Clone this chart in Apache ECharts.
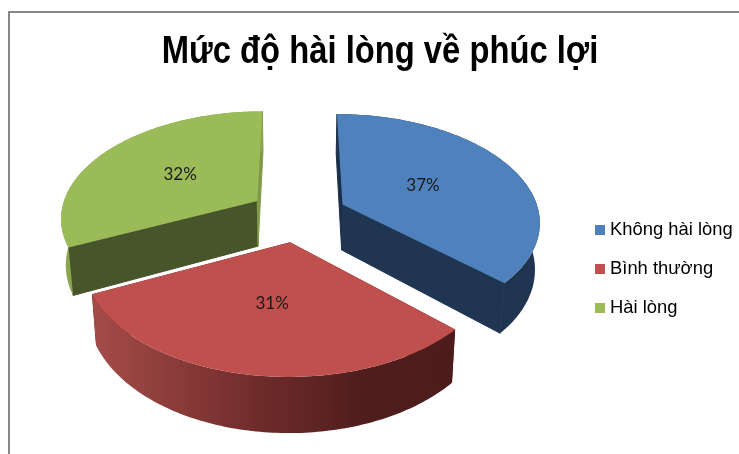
<!DOCTYPE html>
<html><head><meta charset="utf-8">
<script src="https://cdn.jsdelivr.net/npm/echarts@6/dist/echarts.min.js"></script>
<style>html,body{margin:0;padding:0;background:#fff}#c{width:739px;height:454px}</style>
</head><body><div id="c"></div>
<script>
const titleText = 'Mức độ hài lòng về phúc lợi';
const categories = ['Không hài lòng', 'Bình thường', 'Hài lòng'];
const values = [37, 31, 32];
const topColors = ['#4f81bd', '#c0504d', '#9bbb59'];
const drawOrder = [2, 0, 1];

// Projection of the tilted, exploded pie
const view = { cx: 298, cy: 215, A: 197, B: 106.4, p: 0.145, explode: 0.25, depth: 46, bottomScale: 0.98 };
const labelRadius = [0.47, 0.5, 0.5];
const total = values.reduce((a, b) => a + b, 0);
const D2R = Math.PI / 180;

function project(wx, wz, bottom) {
  const s = 1 / (1 - view.p * wz);
  let x = view.A * wx * s, y = view.B * wz * s;
  if (bottom) { x *= view.bottomScale; y += view.depth * s; }
  return [view.cx + x, view.cy + y];
}
function sliceAngles(i) {
  let before = 0;
  for (let k = 0; k < i; k++) before += values[k];
  return [before / total * 360, (before + values[i]) / total * 360];
}
function pointAt(i, deg, r, bottom) {
  const [a0, a1] = sliceAngles(i);
  const mid = (a0 + a1) / 2 * D2R, t = deg * D2R;
  const wx = view.explode * Math.sin(mid) + r * Math.sin(t);
  const wz = -view.explode * Math.cos(mid) - r * Math.cos(t);
  return project(wx, wz, bottom);
}
function arc(i, bottom, from, to) {
  const pts = [], n = Math.max(2, Math.ceil(Math.abs(to - from)));
  for (let k = 0; k <= n; k++) pts.push(pointAt(i, from + (to - from) * k / n, 1, bottom));
  return pts;
}
const faceColors = [
  { startCut: '#1b2f4a', endCut: '#1f3552', wall: '#1f3552' },
  { startCut: '#4e1c1c', endCut: '#4e1c1c', wall: new echarts.graphic.LinearGradient(0, 0, 1, 0, [
      { offset: 0, color: '#a54c49' }, { offset: 0.45, color: '#702c2b' },
      { offset: 0.75, color: '#4f1d1c' }, { offset: 1, color: '#4c1c1b' }]) },
  { startCut: '#47562a', endCut: '#7f9a48', wall: '#8aa64e' }
];
function poly(points, fill, z2, seam) {
  return { type: 'polygon', z2, shape: { points }, silent: true,
    style: seam ? { fill, stroke: fill, lineWidth: 1 } : { fill } };
}
function renderSlice(i) {
  return function () {
    const [a0, a1] = sliceAngles(i);
    const c = faceColors[i];
    const mid = (a0 + a1) / 2;
    const lab = pointAt(i, mid, labelRadius[i], false);
    const apexT = pointAt(i, 0, 0, false), apexB = pointAt(i, 0, 0, true);
    const top = [apexT].concat(arc(i, false, a0, a1));
    const wall = arc(i, false, a0, a1).concat(arc(i, true, a1, a0));
    return { type: 'group', children: [
      poly([apexT, pointAt(i, a0, 1, false), pointAt(i, a0, 1, true), apexB], c.startCut, 1, i !== 1),
      poly([apexT, pointAt(i, a1, 1, false), pointAt(i, a1, 1, true), apexB], c.endCut, 2, i !== 1),
      poly(wall, c.wall, 3, false),
      poly(top, topColors[i], 4, false),
      { type: 'text', z2: 5, silent: true, x: lab[0], y: lab[1], style: {
          text: Math.round(values[i] / total * 100) + '%', align: 'center', verticalAlign: 'middle',
          fill: '#1a1a1a', font: '17px Lato, sans-serif' } }
    ] };
  };
}
const chart = echarts.init(document.getElementById('c'), null, { renderer: 'canvas' });
chart.setOption({
  animation: false,
  backgroundColor: '#fff',
  legend: {
    orient: 'vertical', left: 590, top: 215, itemWidth: 10, itemHeight: 10, itemGap: 19, icon: 'rect',
    data: categories,
    textStyle: { fontFamily: '"Liberation Sans", Arial', fontSize: 18.4, color: '#000', lineHeight: 20 }
  },
  graphic: [
    { type: 'polyline', silent: true, shape: { points: [[9, 454], [9, 12], [739, 12]] },
      style: { fill: null, stroke: '#868686', lineWidth: 2 } },
    { type: 'text', silent: true, x: 380, y: 52, scaleX: 0.84, scaleY: 1, style: {
        text: titleText, align: 'center', verticalAlign: 'middle', fill: '#000',
        font: 'bold 39px "Liberation Sans", Arial' } }
  ],
  series: drawOrder.map((i, order) => ({
    type: 'custom', coordinateSystem: 'none', name: categories[i], z: 2 + order,
    itemStyle: { color: topColors[i] }, data: [[values[i]]], renderItem: renderSlice(i)
  }))
});
</script></body></html>
